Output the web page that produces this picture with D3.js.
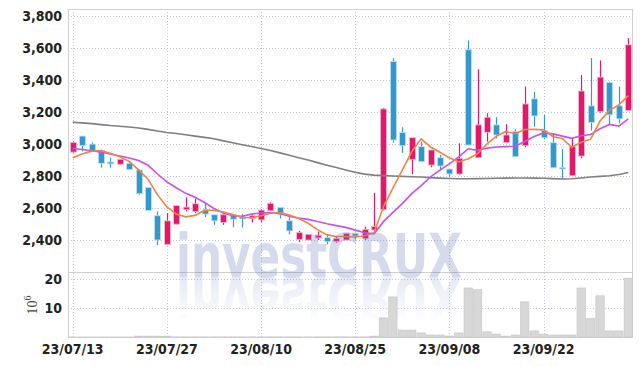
<!DOCTYPE html>
<html><head><meta charset="utf-8">
<script src="https://cdn.jsdelivr.net/npm/d3@7"></script>
<style>html,body{margin:0;padding:0;background:#fff;} svg{display:block}</style>
</head><body><svg id="c" width="642" height="366"></svg>
<script>
const dates = ["23/07/13","23/07/14","23/07/17","23/07/18","23/07/19","23/07/20","23/07/21","23/07/24","23/07/25","23/07/26",
"23/07/27","23/07/28","23/07/31","23/08/01","23/08/02","23/08/03","23/08/04","23/08/07","23/08/08","23/08/09",
"23/08/10","23/08/11","23/08/14","23/08/16","23/08/17","23/08/18","23/08/21","23/08/22","23/08/23","23/08/24",
"23/08/25","23/08/28","23/08/29","23/08/30","23/08/31","23/09/01","23/09/04","23/09/05","23/09/06","23/09/07",
"23/09/08","23/09/11","23/09/12","23/09/13","23/09/14","23/09/15","23/09/18","23/09/19","23/09/20","23/09/21",
"23/09/22","23/09/25","23/09/26","23/09/27","23/10/04","23/10/05","23/10/06","23/10/10","23/10/11","23/10/12"];
const openP  = [2950,3050,3000,2958,2888,2874,2880,2838,2728,2552,2373,2499,2590,2579,2590,2558,2510,2558,2541,2535,
2526,2583,2604,2520,2404,2400,2413,2415,2390,2400,2442,2408,2463,2590,3516,3072,2905,2984,2869,2915,
2844,2813,3590,2915,3074,3120,3009,3078,2990,3283,3084,3009,2854,2802,2925,3239,3204,3385,3239,3210];
const highP  = [3015,3052,3010,2965,2915,2905,2890,2842,2730,2579,2568,2617,2667,2659,2636,2558,2568,2560,2562,2562,
2594,2636,2604,2552,2457,2436,2453,2436,2421,2442,2446,2484,2695,3225,3537,3105,3040,3015,2963,2932,
2844,3005,3648,3468,3193,3168,3124,3093,3360,3326,3183,3057,2969,3036,3432,3538,3523,3391,3360,3663];
const lowP   = [2945,2955,2950,2853,2853,2872,2838,2684,2585,2368,2368,2497,2579,2568,2543,2495,2495,2480,2478,2510,
2510,2583,2535,2436,2387,2400,2400,2373,2383,2400,2404,2400,2457,2585,3009,2946,2813,2890,2855,2834,
2796,2806,2994,2915,3015,3036,3009,2921,2980,3109,3030,2852,2781,2802,2911,3085,3197,3124,3130,3210];
const closeP = [3010,2990,2955,2880,2876,2905,2842,2690,2585,2400,2520,2615,2606,2627,2562,2520,2558,2530,2535,2552,
2587,2629,2558,2457,2446,2436,2430,2390,2410,2442,2425,2467,2484,3220,3026,2990,3040,2890,2963,2863,
2813,2911,2994,3120,3168,3057,3057,2921,3251,3176,3040,2852,2850,2984,3332,3135,3419,3183,3158,3621];
const ma5  = [2915,2938,2956,2960,2942,2921,2892,2839,2780,2684,2607,2562,2545,2554,2586,2586,2575,2559,2541,2539,
2552,2567,2572,2557,2535,2505,2465,2432,2422,2422,2419,2427,2446,2608,2724,2837,2952,3033,2982,2949,
2914,2888,2909,2940,3001,3050,3079,3065,3091,3092,3089,3048,3034,2980,3012,3031,3144,3211,3245,3303];
const ma10 = [2972,2966,2958,2950,2938,2925,2913,2897,2868,2813,2764,2727,2692,2667,2635,2597,2569,2552,2548,2563,
2569,2571,2566,2549,2537,2529,2516,2502,2490,2479,2462,2446,2439,2515,2573,2628,2690,2740,2795,2837,
2876,2920,2971,2961,2975,2982,2984,2987,3016,3047,3070,3064,3050,3036,3052,3060,3096,3123,3113,3158];
const maLong = [3137,3133,3128,3122,3116,3112,3107,3101,3092,3082,3073,3066,3058,3050,3042,3033,3020,3008,2996,2985,
2973,2960,2945,2930,2915,2900,2884,2868,2853,2838,2824,2812,2806,2803,2800,2798,2796,2794,2790,2787,
2785,2783,2783,2784,2785,2786,2787,2788,2788,2787,2786,2784,2782,2783,2788,2794,2798,2802,2810,2822];
const volume = [0.02,0.02,0.02,0.02,0.02,0.02,0.02,0.3,0.3,0.3,0.3,0.05,0.05,0.05,0.05,0.05,0.05,0.05,0.05,0.05,
0.05,0.05,0.05,0.05,0.05,0.05,0.05,0.05,0.05,0.05,0.05,0.05,0.3,6.6,13.8,2.4,2.4,1.4,0.7,0.7,
0.35,1.4,16.9,16.3,1.8,1.0,0.3,0.7,12.1,2.1,1.0,0.7,0.7,0.7,16.9,6.3,14.2,2.1,2.1,20.3];
const priceTicks = [2400,2600,2800,3000,3200,3400,3600,3800];
const volTicks = [10,20];
const dateTicks = ["23/07/13","23/07/27","23/08/10","23/08/25","23/09/08","23/09/22"];

const svg = d3.select('#c');
const L = 68, R = 633, T = 9, PB = 272, VB = 337;
const x = d3.scaleBand().domain(dates).range([L, R]);
const bw = x.bandwidth();
const cx = d => x(d) + bw / 2;
const y = d3.scaleLinear().domain([2200, 3845]).range([PB, T]);
const yv = d3.scaleLinear().domain([0, 22.4]).range([VB, PB]);

const grid = svg.append('g').attr('stroke', '#c3c7d9').attr('stroke-width', 1).attr('stroke-dasharray', '1,2');
grid.selectAll('.hg').data(priceTicks).join('line')
  .attr('x1', L).attr('x2', R).attr('y1', d => Math.round(y(d)) + 0.5).attr('y2', d => Math.round(y(d)) + 0.5);
grid.selectAll('.vg').data(volTicks).join('line')
  .attr('x1', L).attr('x2', R).attr('y1', d => Math.round(yv(d)) + 0.5).attr('y2', d => Math.round(yv(d)) + 0.5);
grid.selectAll('.xg').data(dateTicks).join('line')
  .attr('x1', d => Math.round(cx(d)) + 0.5).attr('x2', d => Math.round(cx(d)) + 0.5).attr('y1', T).attr('y2', VB);

// frame
const frame = svg.append('g').attr('stroke', '#cfcfcf').attr('stroke-width', 1).attr('fill', 'none');
frame.append('line').attr('x1', L).attr('x2', R).attr('y1', T + 0.5).attr('y2', T + 0.5);
frame.append('line').attr('x1', L).attr('x2', R).attr('y1', PB + 0.5).attr('y2', PB + 0.5);
frame.append('line').attr('x1', L).attr('x2', R).attr('y1', VB + 0.5).attr('y2', VB + 0.5);
frame.append('line').attr('x1', L + 0.5).attr('x2', L + 0.5).attr('y1', T).attr('y2', VB);
frame.append('line').attr('x1', R - 0.5).attr('x2', R - 0.5).attr('y1', T).attr('y2', VB);

// volume bars
svg.append('g').selectAll('rect').data(dates).join('rect')
  .attr('x', d => x(d) + 0.5).attr('width', bw - 1)
  .attr('y', (d, i) => yv(volume[i])).attr('height', (d, i) => yv(0) - yv(volume[i]))
  .attr('fill', '#d7d7d7').attr('stroke', '#c6c6c6').attr('stroke-width', 0.6);

// candles
const UP = '#e2196b', DOWN = '#3399cc';
const cg = svg.append('g');
const col = i => closeP[i] >= openP[i] ? UP : DOWN;
cg.selectAll('line').data(dates).join('line')
  .attr('x1', d => Math.round(cx(d)) + 0.5).attr('x2', d => Math.round(cx(d)) + 0.5)
  .attr('y1', (d, i) => y(highP[i])).attr('y2', (d, i) => y(lowP[i]))
  .attr('stroke', (d, i) => col(i)).attr('stroke-width', 1.2);
cg.selectAll('rect').data(dates).join('rect')
  .attr('x', d => Math.round(cx(d)) + 0.5 - 3).attr('width', 6)
  .attr('y', (d, i) => y(Math.max(openP[i], closeP[i])))
  .attr('height', (d, i) => Math.max(1.5, Math.abs(y(openP[i]) - y(closeP[i]))))
  .attr('fill', (d, i) => col(i))
  .attr('stroke', (d, i) => col(i) === UP ? '#f6b8cf' : '#bfe0f0').attr('stroke-width', 0.8);

// moving averages
const line = arr => d3.line().x((d, i) => cx(dates[i])).y(d => y(d))(arr);
svg.append('path').attr('d', line(maLong)).attr('fill', 'none').attr('stroke', '#7f7f7f').attr('stroke-width', 1.6);
svg.append('path').attr('d', line(ma10)).attr('fill', 'none').attr('stroke', '#c951ea').attr('stroke-width', 1.6);
svg.append('path').attr('d', line(ma5)).attr('fill', 'none').attr('stroke', '#ef8448').attr('stroke-width', 1.6);

// watermark
const defs = svg.append('defs');
const grad = defs.append('linearGradient').attr('id', 'fade').attr('x1', 0).attr('y1', 0).attr('x2', 0).attr('y2', 1);
grad.append('stop').attr('offset', '0%').attr('stop-color', '#fff').attr('stop-opacity', 0.6);
grad.append('stop').attr('offset', '100%').attr('stop-color', '#fff').attr('stop-opacity', 0);
defs.append('mask').attr('id', 'm').attr('maskUnits', 'userSpaceOnUse')
  .append('rect').attr('x', 0).attr('y', 277).attr('width', 642).attr('height', 46).attr('fill', 'url(#fade)');
const wm = svg.append('g').attr('fill', '#6a7cc0').attr('opacity', 0.28)
  .style('font-family', '"DejaVu Sans", sans-serif').style('font-weight', 'bold').style('font-size', '60px');
wm.append('text').attr('x', 176).attr('y', 277).attr('textLength', 286).attr('lengthAdjust', 'spacingAndGlyphs').text('investCRUX');
wm.append('g').attr('mask', 'url(#m)').append('path')
  .attr('transform', 'translate(0,554) scale(1,-1)');
wm.select('g').append('text').attr('x', 176).attr('y', 277)
  .attr('transform', 'translate(0,554) scale(1,-1)')
  .attr('textLength', 286).attr('lengthAdjust', 'spacingAndGlyphs').text('investCRUX');

// axes
const font = '"Liberation Sans Narrow","DejaVu Sans Condensed",sans-serif';
function style(g) {
  g.select('.domain').remove();
  g.selectAll('text').style('font-family', font).style('font-size', '14px').style('font-weight', 'bold').attr('fill', '#222');
}
svg.append('g').attr('transform', `translate(${L},0)`)
  .call(d3.axisLeft(y).tickValues(priceTicks).tickFormat(d3.format(',')).tickSize(0).tickPadding(6)).call(style);
svg.append('g').attr('transform', `translate(${L},0)`)
  .call(d3.axisLeft(yv).tickValues(volTicks).tickSize(0).tickPadding(6)).call(style);
svg.append('g').attr('transform', `translate(0,${VB})`)
  .call(d3.axisBottom(x).tickValues(dateTicks).tickSize(0).tickPadding(7)).call(style);

const ul = svg.append('text').attr('transform', 'translate(37,305) rotate(-90)').attr('text-anchor', 'middle')
  .style('font-family', '"Liberation Serif", serif').style('font-size', '14px').attr('fill', '#444');
ul.append('tspan').text('10');
ul.append('tspan').attr('dy', -6).style('font-size', '10px').text('6');
</script></body></html>
